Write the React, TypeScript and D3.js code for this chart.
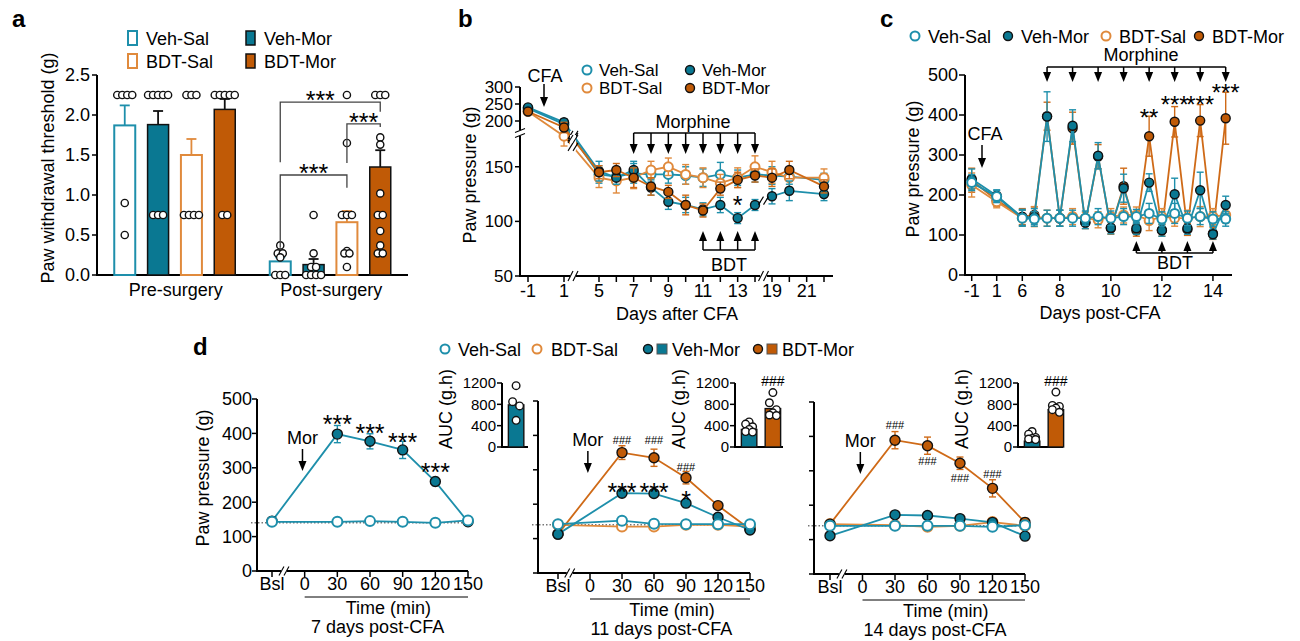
import * as React from "react";
import * as d3 from "d3";

const { useRef, useEffect } = React;

const FONT = "'Liberation Sans', Arial, Helvetica, sans-serif";
const TEAL = "#0a7892";
const TEAL_LN = "#1e8fab";
const ORANGE = "#c05a06";
const ORANGE_LN = "#cf6a17";
const ORANGE_LT = "#e08a3c";

// ---------- panel a : paw withdrawal threshold
const groupsA = ["Veh-Sal", "Veh-Mor", "BDT-Sal", "BDT-Mor"];
const phasesA = ["Pre-surgery", "Post-surgery"];
const ticksA = [0, 0.5, 1, 1.5, 2, 2.5];
const meanPreA = [1.87, 1.88, 1.5, 2.07];
const semPreA = [0.25, 0.17, 0.2, 0.13];
const meanPostA = [0.17, 0.13, 0.66, 1.35];
const semPostA = [0.05, 0.07, 0.14, 0.21];
const dotsPreA = [
  [2.25, 2.25, 2.25, 2.25, 0.9, 0.5],
  [2.25, 2.25, 2.25, 2.25, 2.25, 0.75, 0.75, 0.75],
  [2.25, 2.25, 2.25, 0.75, 0.75, 0.75, 0.75],
  [2.25, 2.25, 2.25, 2.25, 2.25, 0.75, 0.75],
];
const dotsPostA = [
  [0.37, 0.27, 0.27, 0.22, 0, 0, 0],
  [0.75, 0.27, 0.1, 0.1, 0, 0, 0, 0],
  [2.25, 1.65, 0.75, 0.75, 0.75, 0.3, 0.27, 0.27, 0.1],
  [2.25, 2.25, 2.25, 1.72, 1.63, 1.02, 0.75, 0.75, 0.55, 0.37, 0.27, 0.27],
];
// brackets: from / to group index, top, left end, right end, label position (index units)
const bracketsA = [
  { from: 0, to: 3, top: 2.16, l: 1.41, r: 2.04, at: 1.2 },
  { from: 2, to: 3, top: 1.89, l: 1.4, r: 1.85, at: 2.5 },
  { from: 0, to: 2, top: 1.25, l: 0.34, r: 1.09, at: 1.0 },
];

// ---------- panel b : paw pressure, days after CFA
const daysB = [-1, 1, 5, 6, 7, 8, 9, 10, 11, 12, 13, 14, 19, 20, 22];
const tickDaysB = [-1, 1, 5, 6, 7, 8, 9, 10, 11, 12, 13, 14, 19, 20, 21, 22];
const labelDaysB = [-1, 1, 5, 7, 9, 11, 13, 19, 21];
const ticksB = [50, 100, 150, 200, 250, 300];
const vehSalB = [237, 195, 143, 141, 144, 143, 143, 142, 140, 143, 140, 143, 142, 141, 138];
const vehMorB = [240, 198, 146, 140, 147, 131, 118, 115, 111, 115, 103, 115, 123, 128, 125];
const bdtSalB = [228, 178, 140, 137, 140, 147, 150, 143, 140, 135, 140, 150, 145, 140, 140];
const bdtMorB = [228, 190, 145, 147, 140, 132, 127, 115, 110, 130, 138, 142, 140, 147, 132];
const semVehSalB = [6, 8, 8, 7, 9, 7, 8, 8, 8, 11, 7, 7, 8, 7, 6];
const semVehMorB = [6, 8, 9, 6, 8, 7, 7, 7, 6, 7, 5, 5, 7, 9, 6];
const semBdtSalB = [6, 9, 9, 11, 10, 8, 8, 9, 9, 8, 9, 10, 10, 9, 8];
const semBdtMorB = [6, 8, 6, 6, 9, 8, 6, 9, 6, 6, 7, 6, 8, 8, 6];
const morDaysB = [7, 8, 9, 10, 11, 12, 13, 14];
const bdtDaysB = [11, 12, 13, 14];

// ---------- panel c : paw pressure, days post-CFA
const daysC = [-1, 1, 6, 7, 7.5, 8, 8.5, 9, 9.5, 10, 10.5, 11, 11.5, 12, 12.5, 13, 13.5, 14, 14.5];
const labelDaysC = [-1, 1, 6, 8, 10, 12, 14];
const ticksC = [0, 100, 200, 300, 400, 500];
const vehSalC = [231, 196, 142, 140, 142, 142, 142, 142, 146, 142, 146, 146, 154, 140, 154, 142, 146, 140, 140];
const vehMorC = [240, 198, 144, 146, 396, 142, 373, 131, 298, 118, 217, 117, 231, 112, 202, 117, 212, 102, 175];
const bdtSalC = [225, 183, 142, 146, 142, 142, 146, 142, 138, 146, 150, 150, 136, 146, 142, 142, 146, 146, 150];
const bdtMorC = [237, 187, 146, 150, 397, 142, 367, 131, 296, 117, 222, 112, 347, 112, 383, 114, 386, 104, 392];
const semVehSalC = [20, 15, 20, 18, 20, 20, 20, 18, 20, 18, 20, 18, 25, 18, 25, 18, 20, 18, 18];
const semVehMorC = [25, 15, 20, 20, 62, 20, 40, 15, 33, 15, 35, 15, 22, 15, 40, 15, 45, 12, 22];
const semBdtSalC = [30, 15, 20, 25, 20, 20, 20, 15, 20, 20, 20, 20, 25, 20, 20, 20, 25, 20, 20];
const semBdtMorC = [30, 15, 20, 20, 35, 20, 40, 15, 30, 15, 45, 15, 50, 15, 38, 15, 40, 15, 65];
const morDaysC = [7.5, 8.5, 9.5, 10.5, 11.5, 12.5, 13.5, 14.5];
const bdtDaysC = [11, 12, 13, 14];
const starsC = [
  { d: 11.5, v: 407, s: "**" },
  { d: 12.5, v: 440, s: "***" },
  { d: 13.5, v: 440, s: "***" },
  { d: 14.5, v: 470, s: "***" },
];

// ---------- panel d : time course on day 7 / 11 / 14
const timeTicksD = [-30, 0, 30, 60, 90, 120, 150];
const timeLabelsD = ["Bsl", "0", "30", "60", "90", "120", "150"];
const timesD = [-30, 30, 60, 90, 120, 150];
const ticksD = [0, 100, 200, 300, 400, 500];
const vehSalD7 = [143, 143, 145, 143, 140, 147];
const vehMorD7 = [145, 398, 377, 352, 260, 143];
const semVehSalD7 = [4, 4, 4, 4, 4, 4];
const semVehMorD7 = [4, 25, 22, 25, 12, 5];
const vehSalD11 = [142, 152, 143, 142, 142, 142];
const bdtSalD11 = [140, 135, 135, 140, 140, 135];
const vehMorD11 = [113, 232, 231, 203, 162, 125];
const bdtMorD11 = [113, 350, 335, 277, 196, 127];
const semVehSalD11 = [4, 6, 4, 4, 4, 4];
const semBdtSalD11 = [4, 4, 4, 4, 4, 4];
const semVehMorD11 = [4, 7, 7, 8, 6, 5];
const semBdtMorD11 = [5, 20, 25, 18, 6, 6];
const vehSalD14 = [140, 140, 140, 140, 137, 142];
const bdtSalD14 = [145, 142, 137, 140, 151, 140];
const vehMorD14 = [111, 172, 170, 161, 150, 110];
const bdtMorD14 = [145, 389, 373, 322, 249, 150];
const semVehSalD14 = [4, 4, 4, 4, 4, 4];
const semBdtSalD14 = [4, 4, 6, 4, 6, 4];
const semVehMorD14 = [4, 6, 6, 6, 6, 5];
const semBdtMorD14 = [5, 25, 25, 18, 25, 12];
const aucGroupsD = ["Veh-Mor", "BDT-Mor"];
const aucTicksD = [0, 400, 800, 1200];
const aucBarD7 = [790];
const aucDotsD7 = [[1150, 850, 770, 500]];
const aucBarD11 = [330, 720];
const aucDotsD11 = [[470, 430, 380, 330, 290, 280], [1020, 830, 700, 640, 600, 590]];
const aucBarD14 = [110, 700];
const aucDotsD14 = [[290, 240, 180, 160, 150, 140], [1030, 780, 760, 730, 700, 650]];
const starsD7 = [
  { t: 30, v: 442, s: "***" },
  { t: 60, v: 416, s: "***" },
  { t: 90, v: 390, s: "***" },
  { t: 120, v: 302, s: "***" },
];
const starsD11 = [
  { t: 30, v: 251, s: "***" },
  { t: 60, v: 251, s: "***" },
  { t: 90, v: 228, s: "*" },
];
const hashD11 = [
  { t: 30, v: 387 },
  { t: 60, v: 387 },
  { t: 90, v: 309 },
];
const hashD14 = [
  { t: 30, v: 433 },
  { t: 60, v: 329 },
  { t: 90, v: 280 },
  { t: 120, v: 292 },
];

type Key = "vs" | "vm" | "bs" | "bm";
const look: Record<Key, any> = {
  vs: { fill: "#fff", stroke: TEAL_LN, sw: 2, line: TEAL_LN },
  vm: { fill: TEAL, stroke: "#111", sw: 1.4, line: TEAL_LN },
  bs: { fill: "#fff", stroke: ORANGE_LT, sw: 2, line: ORANGE_LT },
  bm: { fill: ORANGE, stroke: "#111", sw: 1.4, line: ORANGE_LN },
};

function label(g: any, x: number, y: number, s: string, size = 18, anchor = "start", weight = "normal") {
  return g.append("text").attr("x", x).attr("y", y).attr("font-size", size)
    .attr("text-anchor", anchor).attr("font-weight", weight).attr("fill", "#000").text(s);
}
function vlabel(g: any, x: number, y: number, s: string, size = 18) {
  g.append("text").attr("transform", `translate(${x},${y}) rotate(-90)`)
    .attr("text-anchor", "middle").attr("font-size", size).attr("fill", "#000").text(s);
}
function stars(g: any, x: number, yc: number, s: string, size = 25) {
  label(g, x, yc + size * 0.57, s, size, "middle");
}
function hashes(g: any, x: number, yc: number, size = 11) {
  label(g, x, yc + size * 0.36, "###", size, "middle");
}
function line(g: any, x1: number, y1: number, x2: number, y2: number, stroke = "#000", w = 1.5) {
  return g.append("line").attr("x1", x1).attr("y1", y1).attr("x2", x2).attr("y2", y2)
    .attr("stroke", stroke).attr("stroke-width", w);
}
function arrow(g: any, x: number, from: number, to: number) {
  const dir = to > from ? 1 : -1;
  line(g, x, from, x, to - dir * 8);
  g.append("path").attr("d", `M${x},${to} L${x - 4},${to - dir * 10} L${x + 4},${to - dir * 10} Z`).attr("fill", "#000");
}
function slashH(g: any, x: number, y: number, h = 10) {
  g.append("rect").attr("x", x - 3).attr("y", y - h / 2).attr("width", 6).attr("height", h).attr("fill", "#fff");
  [-2.5, 2.5].forEach((dx) => line(g, x + dx - 2.5, y + h / 2, x + dx + 2.5, y - h / 2, "#000", 1.1));
}
function slashV(g: any, x: number, y: number) {
  g.append("rect").attr("x", x - 5).attr("y", y - 3).attr("width", 10).attr("height", 6).attr("fill", "#fff");
  [-2.5, 2.5].forEach((dy) => line(g, x - 5, y + dy + 2, x + 5, y + dy - 2, "#000", 1.1));
}
function marker(g: any, cx: number, cy: number, k: Key, r: number) {
  const st = look[k];
  g.append("circle").attr("cx", cx).attr("cy", cy).attr("r", r)
    .attr("fill", st.fill).attr("stroke", st.stroke).attr("stroke-width", st.sw);
}
function series(g: any, xs: number[], vs: number[], es: number[], x: any, y: any, k: Key, r: number) {
  const st = look[k];
  const pts: [number, number][] = xs.map((d, i) => [x(d), y(vs[i])]);
  g.append("path").attr("d", d3.line()(pts)).attr("fill", "none")
    .attr("stroke", st.line).attr("stroke-width", 1.8);
  xs.forEach((d, i) => {
    const cx = x(d);
    const y1 = y(vs[i] - es[i]);
    const y2 = y(vs[i] + es[i]);
    line(g, cx, y1, cx, y2, st.line, 1.4);
    line(g, cx - 3.5, y1, cx + 3.5, y1, st.line, 1.4);
    line(g, cx - 3.5, y2, cx + 3.5, y2, st.line, 1.4);
  });
  pts.forEach(([cx, cy]) => marker(g, cx, cy, k, r));
}

function drawA(g: any) {
  label(g, 12, 27, "a", 24, "start", "bold");
  const y = d3.scaleLinear().domain([0, 2.5]).range([275, 75]);
  const xo = d3.scaleBand().domain(phasesA).range([97, 408]);
  const xi = d3.scaleBand().domain(groupsA).range([-60.5, 60.5]).paddingInner(0.37);
  const bw = xi.bandwidth();
  const cx = (p: string, gi: number) => (xo(p) as number) + xo.bandwidth() / 2 + (xi(groupsA[gi]) as number) + bw / 2;
  const styleA = [
    { fill: "#fff", stroke: TEAL_LN, sw: 2, err: TEAL_LN },
    { fill: TEAL, stroke: "#111", sw: 1.5, err: "#111" },
    { fill: "#fff", stroke: ORANGE_LT, sw: 2, err: ORANGE_LT },
    { fill: ORANGE, stroke: "#111", sw: 1.5, err: "#111" },
  ];
  groupsA.forEach((name, i) => {
    const lx = [128, 246][i % 2];
    const ly = [31, 54][Math.floor(i / 2)];
    g.append("rect").attr("x", lx).attr("y", ly).attr("width", 9).attr("height", 14)
      .attr("fill", styleA[i].fill).attr("stroke", styleA[i].stroke).attr("stroke-width", styleA[i].sw);
    label(g, lx + 18, ly + 14, name);
  });

  line(g, 97, 75, 97, 276, "#000", 2);
  line(g, 96, 275, 408, 275, "#000", 2);
  ticksA.forEach((t) => {
    line(g, 92, y(t), 97, y(t), "#000", 1.5);
    label(g, 90, y(t) + 6.4, d3.format(".1f")(t), 18, "end");
  });
  vlabel(g, 54, 168, "Paw withdrawal threshold (g)");
  phasesA.forEach((p) => label(g, (xo(p) as number) + xo.bandwidth() / 2 + 1, 296, p, 18, "middle"));

  const phaseData: any[] = [
    [meanPreA, semPreA, dotsPreA],
    [meanPostA, semPostA, dotsPostA],
  ];
  phasesA.forEach((p, pi) => {
    const [means, sems, dots] = phaseData[pi];
    groupsA.forEach((_, gi) => {
      const c = cx(p, gi);
      const st = styleA[gi];
      g.append("rect").attr("x", c - bw / 2).attr("y", y(means[gi])).attr("width", bw)
        .attr("height", y(0) - y(means[gi])).attr("fill", st.fill).attr("stroke", st.stroke).attr("stroke-width", st.sw);
      const yt = y(means[gi] + sems[gi]);
      line(g, c, y(means[gi]), c, yt, st.err, 1.8);
      line(g, c - 5, yt, c + 5, yt, st.err, 1.8);
      const cnt = d3.rollup(dots[gi] as number[], (v) => v.length, (v) => v);
      const seen = new Map<number, number>();
      (dots[gi] as number[]).forEach((v) => {
        const n = cnt.get(v) as number;
        const k = seen.get(v) ?? 0;
        seen.set(v, k + 1);
        g.append("circle").attr("cx", c + (k - (n - 1) / 2) * 5).attr("cy", y(v)).attr("r", 3.6)
          .attr("fill", "#fff").attr("stroke", "#111").attr("stroke-width", 1.4);
      });
    });
  });

  const post = phasesA[1];
  bracketsA.forEach((b) => {
    const x1 = cx(post, b.from);
    const x2 = cx(post, b.to);
    const yt = y(b.top);
    g.append("path").attr("d", `M${x1},${y(b.l)} V${yt} H${x2} V${y(b.r)}`)
      .attr("fill", "none").attr("stroke", "#444").attr("stroke-width", 1.3);
    const lx = cx(post, 0) + b.at * (cx(post, 1) - cx(post, 0));
    stars(g, lx, yt - 7, "***");
  });
}

function drawB(g: any) {
  label(g, 458, 27, "b", 24, "start", "bold");
  const x = d3.scaleLinear().domain([-1, 1, 5, 14, 19, 22]).range([528, 564, 599, 755, 772, 824]);
  const y = d3.scaleLinear().domain([50, 180, 200, 300]).range([276, 134, 121, 87]);

  // axes
  line(g, 520, 87, 520, 130, "#000", 2);
  line(g, 520, 136, 520, 277, "#000", 2);
  slashV(g, 520, 133);
  [[519, 570], [576, 760], [767, 833]].forEach(([a, b]) => line(g, a, 276, b, 276, "#000", 2));
  slashH(g, 573, 276);
  slashH(g, 763.5, 276);
  ticksB.forEach((t) => {
    line(g, 515, y(t), 520, y(t), "#000", 1.5);
    label(g, 513, y(t) + 6, String(t), 17, "end");
  });
  tickDaysB.forEach((d) => line(g, x(d), 276, x(d), 282, "#000", 1.5));
  labelDaysB.forEach((d) => label(g, x(d), 297, String(d), 18, "middle"));
  label(g, 677, 320, "Days after CFA", 18, "middle");
  vlabel(g, 476, 175, "Paw pressure (g)");

  // legend
  const leg: [Key, string, number, number][] = [
    ["vs", "Veh-Sal", 587, 70],
    ["vm", "Veh-Mor", 690, 70],
    ["bs", "BDT-Sal", 587, 88],
    ["bm", "BDT-Mor", 690, 88],
  ];
  leg.forEach(([k, s, lx, ly]) => {
    marker(g, lx, ly, k, 4.5);
    label(g, lx + 12, ly + 6, s, 17);
  });

  series(g, daysB, vehSalB, semVehSalB, x, y, "vs", 4.5);
  series(g, daysB, bdtSalB, semBdtSalB, x, y, "bs", 4.5);
  series(g, daysB, vehMorB, semVehMorB, x, y, "vm", 4.5);
  series(g, daysB, bdtMorB, semBdtMorB, x, y, "bm", 4.5);

  // line breaks on the 1 -> 5 segments and 14 -> 19 segment
  [vehSalB, bdtSalB, vehMorB, bdtMorB].forEach((vals) => {
    const ya = y(vals[1]);
    const yb = y(vals[2]);
    const f = (573 - x(1)) / (x(5) - x(1));
    slashH(g, 573, ya + f * (yb - ya), 8);
  });
  {
    const ya = y(vehMorB[11]);
    const yb = y(vehMorB[12]);
    const f = (763.5 - x(14)) / (x(19) - x(14));
    slashH(g, 763.5, ya + f * (yb - ya), 8);
  }

  // CFA
  label(g, 545, 82, "CFA", 18, "middle");
  arrow(g, 544, 84, 107);
  // Morphine
  label(g, 693, 128, "Morphine", 18, "middle");
  line(g, x(morDaysB[0]), 133, x(morDaysB[morDaysB.length - 1]), 133);
  morDaysB.forEach((d) => arrow(g, x(d), 133, 154));
  // BDT
  line(g, x(bdtDaysB[0]), 250, x(bdtDaysB[bdtDaysB.length - 1]), 250);
  bdtDaysB.forEach((d) => arrow(g, x(d), 250, 231));
  label(g, (x(11) + x(14)) / 2, 271, "BDT", 18, "middle");
  stars(g, x(13), 200, "*", 25);
}

function drawC(g: any) {
  label(g, 880, 27, "c", 24, "start", "bold");
  const x = d3.scaleLinear().domain([-1, 1, 6, 7, 14.5]).range([971.7, 996.7, 1022.3, 1034.3, 1225.7]);
  const y = d3.scaleLinear().domain([0, 500]).range([275, 75]);

  line(g, 965, 75, 965, 276, "#000", 2);
  line(g, 964, 275, 1232, 275, "#000", 2);
  ticksC.forEach((t) => {
    line(g, 959, y(t), 965, y(t), "#000", 1.5);
    label(g, 958, y(t) + 6.4, String(t), 18, "end");
  });
  labelDaysC.forEach((d) => {
    line(g, x(d), 275, x(d), 281, "#000", 1.5);
    label(g, x(d), 297, String(d), 18, "middle");
  });
  label(g, 1100, 319, "Days post-CFA", 18, "middle");
  vlabel(g, 919, 169, "Paw pressure (g)");

  const leg: [Key, string, number][] = [
    ["vs", "Veh-Sal", 915],
    ["vm", "Veh-Mor", 1008],
    ["bs", "BDT-Sal", 1106],
    ["bm", "BDT-Mor", 1199],
  ];
  leg.forEach(([k, s, lx]) => {
    marker(g, lx, 36, k, 4.5);
    label(g, lx + 13, 42.5, s);
  });

  series(g, daysC, bdtMorC, semBdtMorC, x, y, "bm", 4.5);
  series(g, daysC, bdtSalC, semBdtSalC, x, y, "bs", 4.5);
  series(g, daysC, vehMorC, semVehMorC, x, y, "vm", 4.5);
  series(g, daysC, vehSalC, semVehSalC, x, y, "vs", 4.5);

  label(g, 1141, 61, "Morphine", 18, "middle");
  line(g, x(morDaysC[0]), 67, x(morDaysC[morDaysC.length - 1]), 67);
  morDaysC.forEach((d) => arrow(g, x(d), 67, 82));
  starsC.forEach((s) => stars(g, x(s.d), y(s.v), s.s, 24));

  label(g, 985, 140, "CFA", 18, "middle");
  arrow(g, 982, 145, 168);

  line(g, x(bdtDaysC[0]), 253, x(bdtDaysC[bdtDaysC.length - 1]), 253);
  bdtDaysC.forEach((d) => arrow(g, x(d), 253, 241));
  label(g, 1175, 269, "BDT", 18, "middle");
}

function drawSub(g: any, cfg: any) {
  const x = d3.scaleLinear().domain([-30, 150]).range([cfg.xBsl, cfg.x150]);
  const y = d3.scaleLinear().domain([0, 500]).range([cfg.y0, cfg.y0 - 172]);
  line(g, cfg.ax, y(500), cfg.ax, cfg.y0 + 1, "#000", 2);
  line(g, cfg.ax - 1, cfg.y0, x(150), cfg.y0, "#000", 2);
  slashH(g, x(-19), cfg.y0, 9);
  ticksD.forEach((t) => {
    line(g, cfg.ax - 5, y(t), cfg.ax, y(t), "#000", 1.5);
    if (cfg.yLabels) label(g, cfg.ax - 5, y(t) + 6.4, String(t), 18, "end");
  });
  timeTicksD.forEach((t, i) => {
    line(g, x(t), cfg.y0, x(t), cfg.y0 + 6, "#000", 1.5);
    label(g, x(t), cfg.y0 + 19, timeLabelsD[i], 18, "middle");
  });
  line(g, x(0), cfg.y0 + 26, x(150), cfg.y0 + 26, "#000", 1);
  label(g, (x(0) + x(150)) / 2 + 2, cfg.y0 + 43, "Time (min)", 18, "middle");
  label(g, x(67), cfg.y0 + 62, cfg.days, 18, "middle");

  // reference line at baseline level
  g.append("line").attr("x1", cfg.ax - 6).attr("x2", x(150) + 2).attr("y1", y(140)).attr("y2", y(140))
    .attr("stroke", "#333").attr("stroke-width", 1).attr("stroke-dasharray", "1.5,2");

  label(g, x(-2), cfg.y0 - 127, "Mor", 18, "middle");
  arrow(g, x(-2), cfg.y0 - 122, cfg.y0 - 100);

  cfg.series.forEach((s: any) => series(g, timesD, s.v, s.e, x, y, s.k, 5));
  (cfg.stars || []).forEach((s: any) => stars(g, x(s.t), y(s.v), s.s, 25));
  (cfg.hash || []).forEach((s: any) => hashes(g, x(s.t), y(s.v), 11));

  // AUC inset
  const ia = cfg.insetX;
  const iy = d3.scaleLinear().domain([0, 1200]).range([447, 383]);
  const ib = d3.scaleBand().domain(aucGroupsD).range([ia + 4, ia + 48]).paddingInner(0.35).paddingOuter(0.1);
  line(g, ia, 383, ia, 448, "#000", 2);
  line(g, ia - 1, 447, ia + cfg.insetW, 447, "#000", 2);
  aucTicksD.forEach((t) => {
    line(g, ia - 5, iy(t), ia, iy(t), "#000", 1.5);
    label(g, ia - 6, iy(t) + 5.4, String(t), 15, "end");
  });
  vlabel(g, ia - 50, 409, "AUC (g.h)");
  cfg.aucBars.forEach((v: number, i: number) => {
    const bx = ib(aucGroupsD[i]) as number;
    g.append("rect").attr("x", bx).attr("y", iy(v)).attr("width", ib.bandwidth()).attr("height", iy(0) - iy(v))
      .attr("fill", i === 0 ? TEAL : ORANGE).attr("stroke", "#111").attr("stroke-width", 1.4);
    cfg.aucDots[i].forEach((d: number, j: number) => {
      const off = [0, -3.5, 3.5][j % 3];
      g.append("circle").attr("cx", bx + ib.bandwidth() / 2 + off).attr("cy", iy(d)).attr("r", 3.8)
        .attr("fill", "#fff").attr("stroke", "#111").attr("stroke-width", 1.4);
    });
  });
  if (cfg.aucBars.length > 1) {
    hashes(g, (ib("BDT-Mor") as number) + ib.bandwidth() / 2, 381, 14);
  }
}

function drawD(g: any) {
  label(g, 193, 355, "d", 24, "start", "bold");
  vlabel(g, 209, 478, "Paw pressure (g)");

  // legend
  marker(g, 445, 349, "vs", 4.5);
  label(g, 458, 355.5, "Veh-Sal");
  marker(g, 537, 349, "bs", 4.5);
  label(g, 551, 355.5, "BDT-Sal");
  marker(g, 648, 349, "vm", 4.5);
  g.append("rect").attr("x", 657).attr("y", 344).attr("width", 10).attr("height", 10).attr("fill", TEAL).attr("stroke", "#555").attr("stroke-width", 1);
  label(g, 672, 355.5, "Veh-Mor");
  marker(g, 758, 349, "bm", 4.5);
  g.append("rect").attr("x", 767).attr("y", 344).attr("width", 10).attr("height", 10).attr("fill", ORANGE).attr("stroke", "#555").attr("stroke-width", 1);
  label(g, 782, 355.5, "BDT-Mor");

  drawSub(g.append("g"), {
    ax: 257, y0: 571, xBsl: 272, x150: 468, insetX: 502, insetW: 26, yLabels: true,
    days: "7 days post-CFA",
    series: [
      { k: "vm", v: vehMorD7, e: semVehMorD7 },
      { k: "vs", v: vehSalD7, e: semVehSalD7 },
    ],
    stars: starsD7,
    aucBars: aucBarD7,
    aucDots: aucDotsD7,
  });
  drawSub(g.append("g"), {
    ax: 538, y0: 573, xBsl: 558, x150: 750, insetX: 735, insetW: 48,
    days: "11 days post-CFA",
    series: [
      { k: "bs", v: bdtSalD11, e: semBdtSalD11 },
      { k: "bm", v: bdtMorD11, e: semBdtMorD11 },
      { k: "vm", v: vehMorD11, e: semVehMorD11 },
      { k: "vs", v: vehSalD11, e: semVehSalD11 },
    ],
    stars: starsD11,
    hash: hashD11,
    aucBars: aucBarD11,
    aucDots: aucDotsD11,
  });
  drawSub(g.append("g"), {
    ax: 814, y0: 574, xBsl: 830, x150: 1025, insetX: 1018, insetW: 45,
    days: "14 days post-CFA",
    series: [
      { k: "bs", v: bdtSalD14, e: semBdtSalD14 },
      { k: "bm", v: bdtMorD14, e: semBdtMorD14 },
      { k: "vm", v: vehMorD14, e: semVehMorD14 },
      { k: "vs", v: vehSalD14, e: semVehSalD14 },
    ],
    hash: hashD14,
    aucBars: aucBarD14,
    aucDots: aucDotsD14,
  });
}

export default function App() {
  const svgRef = useRef<SVGSVGElement>(null);

  useEffect(() => {
    const svg = d3.select(svgRef.current);
    svg.selectAll("*").remove();
    const root = svg.append("g").attr("font-family", FONT);
    drawA(root.append("g"));
    drawB(root.append("g"));
    drawC(root.append("g"));
    drawD(root.append("g"));
  }, []);

  return (
    <svg
      ref={svgRef}
      width={1300}
      height={641}
      style={{ position: "absolute", left: 0, top: 0, background: "#fff" }}
    />
  );
}
